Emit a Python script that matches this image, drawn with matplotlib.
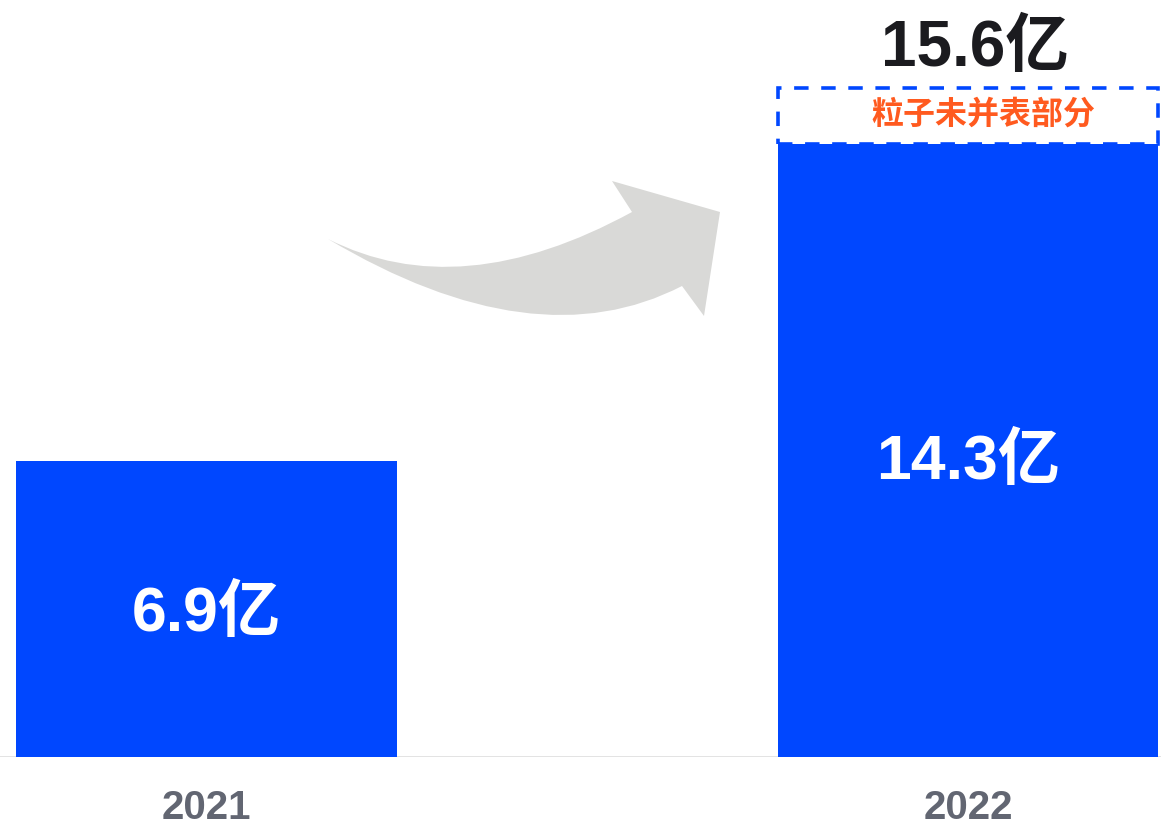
import matplotlib
matplotlib.use("Agg")
import matplotlib.pyplot as plt
from matplotlib.path import Path
from matplotlib.patches import PathPatch

plt.rcParams['font.family'] = ['Liberation Sans', 'Noto Sans CJK SC', 'DejaVu Sans']

# data
years = ['2021', '2022']
consolidated = [6.9, 14.3]       # 亿
total_2022 = 15.6                # incl. unconsolidated part
extra_label = '粒子未并表部分'

blue = '#0047ff'
W, H = 1161, 827

fig = plt.figure(figsize=(W / 100, H / 100), dpi=100)
ax = fig.add_axes([0, 70 / H, 1, 757 / H])

x = list(range(len(years)))
ax.bar(x, consolidated, width=0.5, color=blue, zorder=2)

# dashed box for the unconsolidated part
ax.bar(x[1], total_2022 - consolidated[1], bottom=consolidated[1], width=0.5,
       fill=False, edgecolor=blue, linewidth=2.6, linestyle=(0, (4, 3.5)), zorder=3)

for xi, v in zip(x, consolidated):
    ax.text(xi, v * 0.48, f'{v}亿', ha='center', va='center', color='white',
            fontsize=45, fontweight='bold', zorder=4)

ax.annotate(f'{total_2022}亿', (x[1], total_2022), xytext=(5, 6),
            textcoords='offset points', ha='center', va='bottom',
            fontsize=46, fontweight='bold', color='#1b1b1f')

ax.text(x[1] + 0.02, (consolidated[1] + total_2022) / 2, extra_label,
        ha='center', va='center', fontsize=23, fontweight='bold', color='#ff5a1f')

ax.axhline(0, color='#e0e0e0', linewidth=2, zorder=1)

ax.set_xlim(-0.271, 1.2535)
ax.set_ylim(0, 757 / 42.9)
ax.set_xticks(x)
ax.set_xticklabels(years, fontsize=29, fontweight='bold', color='#626672')
ax.tick_params(axis='x', length=0, pad=23)
ax.set_yticks([])
for s in ax.spines.values():
    s.set_visible(False)


# grey curved arrow (decoration), pixel coords from top-left
def px(x, y):
    return (x / W, 1 - y / H)


verts = [px(632, 212), px(460, 306), px(328, 239),
         px(535, 362), px(682, 286),
         px(704, 316), px(720, 212), px(612, 181), px(632, 212)]
codes = [Path.MOVETO, Path.CURVE3, Path.CURVE3,
         Path.CURVE3, Path.CURVE3,
         Path.LINETO, Path.LINETO, Path.LINETO, Path.CLOSEPOLY]
arrow = PathPatch(Path(verts, codes), facecolor='#d9d9d7', edgecolor='none',
                  transform=fig.transFigure)
fig.patches.append(arrow)

fig.savefig('out.png', dpi=100)
